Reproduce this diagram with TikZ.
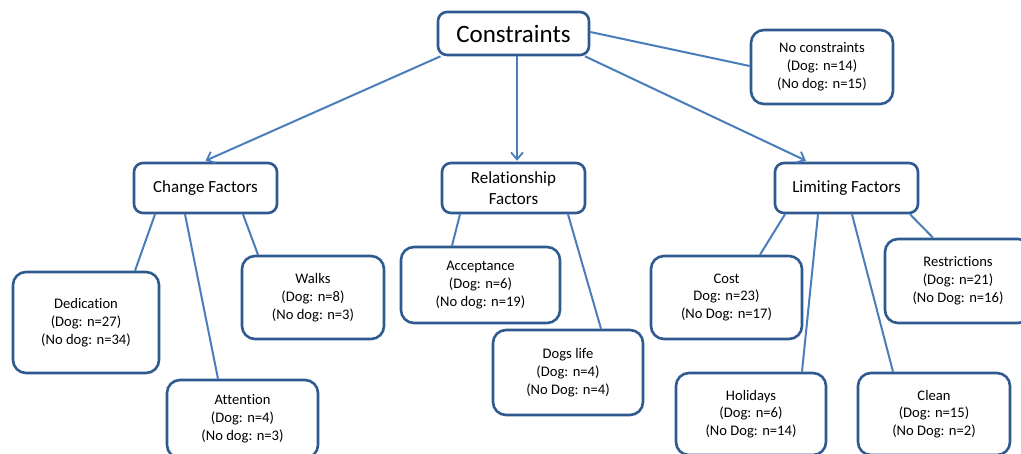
\documentclass[tikz,border=0pt]{standalone}
\usepackage{fontspec}
\setmainfont{Carlito}[Ligatures=CommonOff]
\usetikzlibrary{arrows.meta,calc}
\definecolor{boxc}{HTML}{2F5A8F}
\definecolor{linec}{HTML}{4A7EBB}
\begin{document}
\begin{tikzpicture}[x=1pt,y=-1pt,
  leaf/.style={draw=boxc, line width=2.6pt, rounded corners=13pt, fill=white, align=center,
    inner sep=0pt, font=\fontsize{14.6}{17.8}\selectfont},
  head/.style={draw=boxc, line width=2.6pt, rounded corners=9pt, fill=white, align=center,
    inner sep=0pt, minimum width=143pt, minimum height=50pt, font=\fontsize{17}{21}\selectfont},
  conn/.style={draw=linec, line width=2pt},
  arr/.style={conn, -{Straight Barb[length=7pt,width=12pt,line width=1.8pt]}}]
\useasboundingbox (0,0) rectangle (1021,453);
\clip (0,0) rectangle (1021,453);
\fill[white] (0,0) rectangle (1021,453);

\node[draw=boxc, line width=2.6pt, rounded corners=9pt, fill=white, inner sep=0pt,
  minimum width=151pt, minimum height=43pt, font=\fontsize{25}{29}\selectfont] (con) at (513.5,33.5) {Constraints};
\node[leaf, minimum width=142pt, minimum height=74pt] (nc) at (822,67) {No constraints\\(Dog: n=14)\\(No dog: n=15)};

\node[head] (cf) at (205.5,188) {Change Factors};
\node[head] (rf) at (513.5,188) {Relationship\\Factors};
\node[head] (lf) at (846.5,188) {Limiting Factors};

\node[leaf, minimum width=146pt, minimum height=101pt] (ded) at (86,322.5) {Dedication\\(Dog: n=27)\\(No dog: n=34)};
\node[leaf, minimum width=151pt, minimum height=78pt] (att) at (242.5,419) {Attention\\(Dog: n=4)\\(No dog: n=3)};
\node[leaf, minimum width=142pt, minimum height=83pt] (wal) at (313,297.5) {Walks\\(Dog: n=8)\\(No dog: n=3)};
\node[leaf, minimum width=159pt, minimum height=76pt] (acc) at (480.5,285) {Acceptance\\(Dog: n=6)\\(No dog: n=19)};
\node[leaf, minimum width=150pt, minimum height=85pt] (dl) at (568,372.5) {Dogs life\\(Dog: n=4)\\(No Dog: n=4)};
\node[leaf, minimum width=151pt, minimum height=83pt] (cost) at (726.5,297.5) {Cost\\Dog: n=23)\\(No Dog: n=17)};
\node[leaf, minimum width=146pt, minimum height=84pt] (res) at (958,281) {Restrictions\\(Dog: n=21)\\(No Dog: n=16)};
\node[leaf, minimum width=150pt, minimum height=82pt] (hol) at (751,414) {Holidays\\(Dog: n=6)\\(No Dog: n=14)};
\node[leaf, minimum width=152pt, minimum height=82pt] (cle) at (934,414) {Clean\\(Dog: n=15)\\(No Dog: n=2)};

% connectors
\draw[arr] ([xshift=-73pt]con.south) -- ([yshift=1pt]cf.north);
\draw[arr] ([xshift=3.5pt]con.south) -- ([xshift=3.5pt,yshift=1pt]rf.north);
\draw[arr] ([xshift=71.5pt]con.south) -- ([xshift=-40.5pt,yshift=1pt]lf.north);
\draw[conn] ([yshift=1.5pt]con.east) -- ([yshift=1pt]nc.west);

\draw[conn] ([xshift=-50.5pt]cf.south) -- ([xshift=49pt]ded.north);
\draw[conn] ([xshift=-20.5pt]cf.south) -- ([xshift=-24.5pt]att.north);
\draw[conn] ([xshift=37.5pt]cf.south) -- ([xshift=-55pt]wal.north);

\draw[conn] ([xshift=-53.5pt]rf.south) -- ([xshift=-28.5pt]acc.north);
\draw[conn] ([xshift=54.5pt]rf.south) -- ([xshift=33pt]dl.north);

\draw[conn] ([xshift=-61.5pt]lf.south) -- ([xshift=33.5pt]cost.north);
\draw[conn] ([xshift=-28.5pt]lf.south) -- ([xshift=51pt]hol.north);
\draw[conn] ([xshift=5.5pt]lf.south) -- ([xshift=-41pt]cle.north);
\draw[conn] ([xshift=63.5pt]lf.south) -- ([xshift=-25pt]res.north);
\end{tikzpicture}
\end{document}
